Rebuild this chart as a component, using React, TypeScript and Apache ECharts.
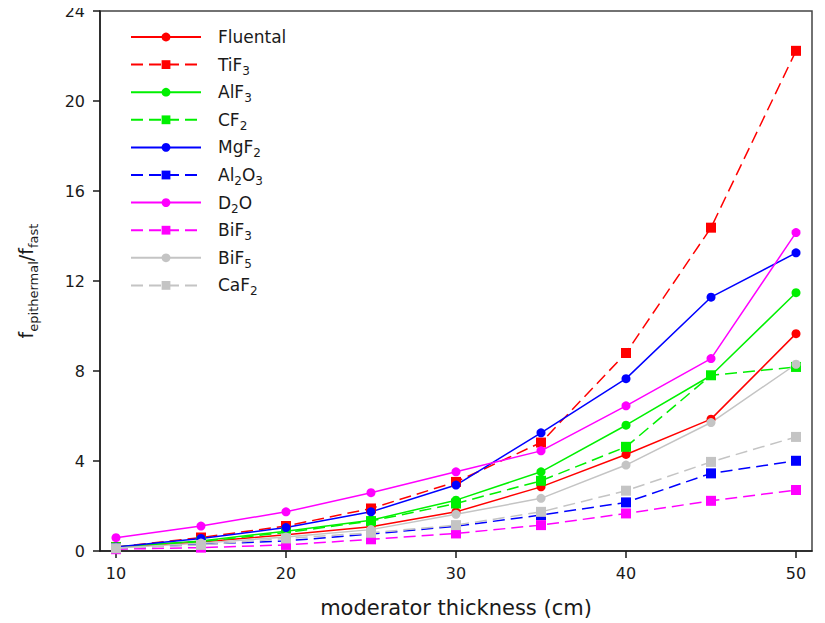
import React, { useEffect, useRef } from "react";
import * as echarts from "echarts";

const thickness = [10, 15, 20, 25, 30, 35, 40, 45, 50];
const fluental = [0.15, 0.4, 0.72, 1.08, 1.74, 2.85, 4.29, 5.86, 9.66];
const tif3 = [0.18, 0.6, 1.11, 1.89, 3.07, 4.82, 8.8, 14.37, 22.23];
const alf3 = [0.18, 0.45, 0.88, 1.37, 2.26, 3.52, 5.59, 7.8, 11.48];
const cf2 = [0.17, 0.42, 0.82, 1.33, 2.11, 3.12, 4.63, 7.81, 8.18];
const mgf2 = [0.18, 0.56, 1.04, 1.74, 2.93, 5.25, 7.66, 11.28, 13.25];
const al2o3 = [0.12, 0.3, 0.45, 0.75, 1.1, 1.6, 2.16, 3.45, 4.01];
const d2o = [0.59, 1.11, 1.74, 2.59, 3.52, 4.45, 6.45, 8.55, 14.15];
const bif3 = [0.08, 0.15, 0.27, 0.52, 0.78, 1.15, 1.67, 2.23, 2.71];
const bif5 = [0.13, 0.35, 0.62, 0.95, 1.63, 2.34, 3.82, 5.71, 8.3];
const caf2 = [0.12, 0.27, 0.56, 0.81, 1.15, 1.74, 2.68, 3.96, 5.07];

const xTicks = [10, 20, 30, 40, 50];
const seriesNames = ["Fluental", "TiF3", "AlF3", "CF2", "MgF2", "Al2O3", "D2O", "BiF3", "BiF5", "CaF2"];
const seriesLabels = ["Fluental", "TiF{s|3}", "AlF{s|3}", "CF{s|2}", "MgF{s|2}", "Al{s|2}O{s|3}", "D{s|2}O", "BiF{s|3}", "BiF{s|5}", "CaF{s|2}"];
const seriesData = [fluental, tif3, alf3, cf2, mgf2, al2o3, d2o, bif3, bif5, caf2];
const seriesColors = ["#ff0000", "#ff0000", "#00f000", "#00f000", "#0000ff", "#0000ff", "#ff00ff", "#ff00ff", "#c4c4c4", "#c4c4c4"];
const seriesDashed = [false, true, false, true, false, true, false, true, false, true];

const FONT = "DejaVu Sans";

export default function App() {
  const ref = useRef<HTMLDivElement>(null);
  useEffect(() => {
    if (!ref.current) return;
    const chart = echarts.init(ref.current, undefined, { renderer: "svg" });
    const labelMap: Record<string, string> = {};
    seriesNames.forEach((n, i) => (labelMap[n] = seriesLabels[i]));
    chart.setOption({
      animation: false,
      backgroundColor: "#ffffff",
      grid: {
        left: 100,
        right: 13,
        top: 11,
        bottom: 72,
        show: true,
        borderColor: "#444",
        borderWidth: 1.5,
        backgroundColor: "transparent",
      },
      legend: {
        orient: "vertical",
        left: 130,
        top: 25,
        padding: 0,
        itemGap: 3.6,
        itemWidth: 70,
        itemHeight: 11,
        selectedMode: false,
        data: seriesNames,
        formatter: (name: string) => labelMap[name],
        textStyle: {
          fontFamily: FONT,
          fontSize: 17,
          color: "#1a1a1a",
          lineHeight: 24,
          padding: [0, 0, 0, 12],
          rich: {
            s: { fontFamily: FONT, fontSize: 12, lineHeight: 24, verticalAlign: "bottom", color: "#1a1a1a" },
          },
        },
      },
      xAxis: {
        type: "value",
        min: 9.06,
        max: 50.94,
        name: "moderator thickness (cm)",
        nameLocation: "middle",
        nameGap: 46,
        nameTextStyle: { fontFamily: FONT, fontSize: 21, color: "#1a1a1a" },
        axisLine: { show: true, onZero: false, lineStyle: { color: "#1a1a1a", width: 1.5 } },
        axisTick: { show: true, length: 7, customValues: xTicks, lineStyle: { color: "#1a1a1a", width: 1.5 } },
        axisLabel: { customValues: xTicks, fontFamily: FONT, fontSize: 16, color: "#1a1a1a", margin: 14 },
        splitLine: { show: false },
      },
      yAxis: {
        type: "value",
        min: 0,
        max: 24,
        interval: 4,
        name: "f{s|epithermal}/f{s|fast}",
        nameLocation: "middle",
        nameGap: 60,
        nameTextStyle: {
          fontFamily: FONT,
          fontSize: 19,
          color: "#1a1a1a",
          lineHeight: 28,
          rich: { s: { fontFamily: FONT, fontSize: 13, lineHeight: 28, verticalAlign: "bottom", color: "#1a1a1a" } },
        },
        axisLine: { show: true, lineStyle: { color: "#1a1a1a", width: 1.5 } },
        axisTick: { show: true, length: 7, lineStyle: { color: "#1a1a1a", width: 1.5 } },
        axisLabel: { fontFamily: FONT, fontSize: 16, color: "#1a1a1a", margin: 15 },
        splitLine: { show: false },
      },
      series: seriesNames.map((name, i) => ({
        name,
        type: "line",
        data: thickness.map((x, j) => [x, seriesData[i][j]]),
        symbol: seriesDashed[i] ? "rect" : "circle",
        symbolSize: seriesDashed[i] ? 10 : 9,
        color: seriesColors[i],
        itemStyle: { color: seriesColors[i] },
        lineStyle: { color: seriesColors[i], width: 1.5, type: seriesDashed[i] ? [12, 6] : "solid" },
        emphasis: { disabled: true },
      })),
    });
    return () => chart.dispose();
  }, []);
  return <div ref={ref} style={{ width: 825, height: 623, marginLeft: -8, marginTop: -8 }} />;
}
